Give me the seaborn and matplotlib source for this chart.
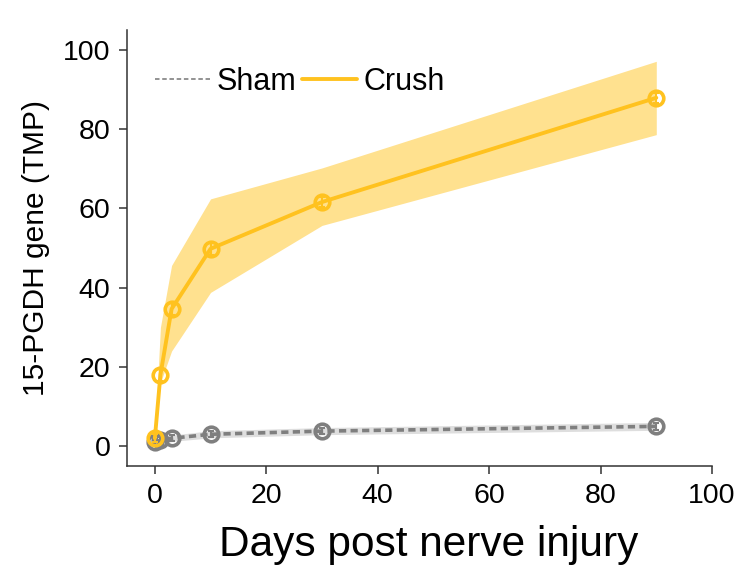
import numpy as np
import pandas as pd
import matplotlib
matplotlib.use("Agg")
import matplotlib.pyplot as plt
from matplotlib.lines import Line2D
import seaborn as sns

# Time points (days after injury)
days = [0, 1, 3, 10, 30, 90]

# 15-PGDH expression (TPM): group means and shaded spread
crush_mean = [2.0, 18.0, 34.6, 49.8, 61.6, 87.9]
crush_low = [1.0, 16.0, 24.0, 38.8, 55.7, 78.6]
crush_high = [3.0, 30.0, 45.6, 62.4, 70.2, 97.1]
crush_err = [1.0, 1.5, 1.5, 1.5, 1.2, 1.2]

sham_mean = [1.0, 1.5, 2.0, 3.0, 3.8, 5.0]
sham_low = [0.3, 0.7, 1.2, 2.1, 2.9, 4.0]
sham_high = [1.7, 2.3, 2.8, 3.9, 4.7, 6.0]
sham_err = [0.8, 0.8, 0.8, 0.8, 0.8, 0.8]

groups = ["Sham", "Crush"]
x_ticks = [0, 20, 40, 60, 80, 100]
y_ticks = [0, 20, 40, 60, 80, 100]

YELLOW = "#FFC21F"
YELLOW_BAND = "#FFE18F"
GREY = "#7F7F7F"
GREY_BAND = "#DEDEDE"

sns.set_theme(style="ticks")
plt.rcParams["font.family"] = ["Liberation Sans", "DejaVu Sans"]
plt.rcParams["text.color"] = "black"
plt.rcParams["axes.labelcolor"] = "black"
plt.rcParams["xtick.labelcolor"] = "black"
plt.rcParams["ytick.labelcolor"] = "black"

df = pd.DataFrame({
    "day": days * 2,
    "tpm": sham_mean + crush_mean,
    "group": [groups[0]] * len(days) + [groups[1]] * len(days),
})

fig = plt.figure(figsize=(7.45, 5.72), dpi=100)
ax = fig.add_axes([127 / 745, 1 - 466 / 572, (712 - 127) / 745, (466 - 30) / 572])

# shaded spread
ax.fill_between(days, crush_low, crush_high, color=YELLOW_BAND, lw=0, zorder=1)
ax.fill_between(days, sham_low, sham_high, color=GREY_BAND, lw=0, zorder=2)

# Sham: dashed grey line with open circles
sns.lineplot(data=df[df.group == "Sham"], x="day", y="tpm", ax=ax, color=GREY,
             lw=2.6, marker="o", markersize=10.5, markerfacecolor="none",
             markeredgecolor=GREY, markeredgewidth=2.6, zorder=3)
ax.lines[-1].set_dashes((2.0, 1.2))
ax.errorbar(days, sham_mean, yerr=sham_err, fmt="none", ecolor=GREY,
            elinewidth=1.5, capsize=2.5, capthick=1.5, zorder=3)

# Crush: solid yellow line with open circles
sns.lineplot(data=df[df.group == "Crush"], x="day", y="tpm", ax=ax, color=YELLOW,
             lw=2.8, marker="o", markersize=10.5, markerfacecolor="none",
             markeredgecolor=YELLOW, markeredgewidth=2.6, zorder=4)
ax.errorbar(days, crush_mean, yerr=crush_err, fmt="none", ecolor=YELLOW,
            elinewidth=1.5, capsize=2.5, capthick=1.5, zorder=4)

ax.set_xlim(-5, 100)
ax.set_ylim(-5, 105)
ax.set_xticks(x_ticks)
ax.set_yticks(y_ticks)
ax.tick_params(labelsize=20.5, length=6, width=1.1, color="#333333", pad=6)
for side in ("left", "bottom"):
    ax.spines[side].set_linewidth(1.1)
    ax.spines[side].set_color("#333333")
sns.despine(ax=ax)

ax.set_xlabel("Days post nerve injury", fontsize=30.5, labelpad=8)
ax.xaxis.set_label_coords(0.515, -0.135)
ax.set_ylabel("15-PGDH gene (TMP)", fontsize=21.5, labelpad=9)

handles = [
    Line2D([], [], color="#8A8A8A", lw=1.3, ls=(0, (2.5, 1.5))),
    Line2D([], [], color=YELLOW, lw=2.8),
]
fig.legend(handles, groups, loc="center left",
           bbox_to_anchor=(155 / 745, 1 - 82 / 572), bbox_transform=fig.transFigure,
           ncol=2, frameon=False, fontsize=22, handlelength=1.8,
           handletextpad=0.2, columnspacing=0.2, borderpad=0, borderaxespad=0)

fig.savefig("out.png", dpi=100)
